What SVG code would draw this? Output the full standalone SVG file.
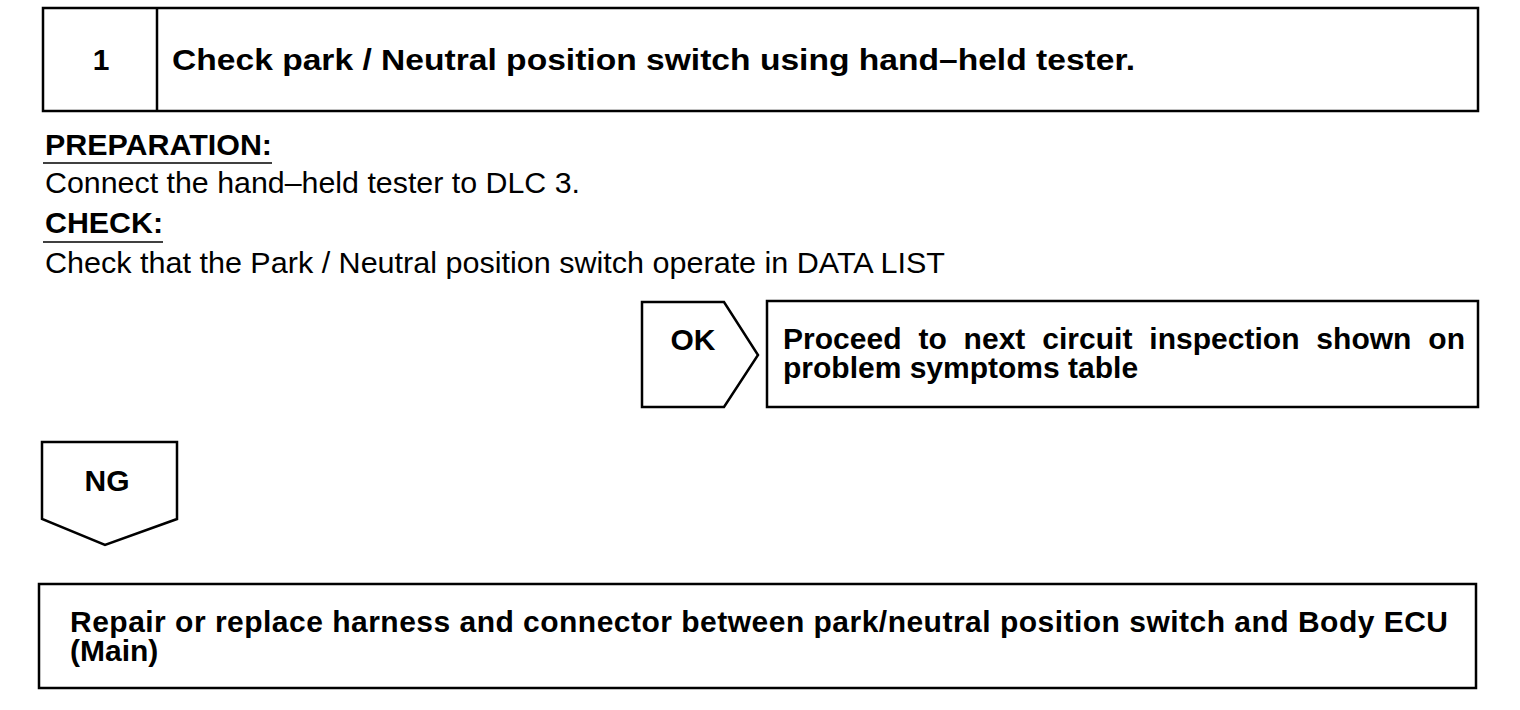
<svg xmlns="http://www.w3.org/2000/svg" width="1520" height="710" viewBox="0 0 1520 710">
<style>
.box{fill:#fff;stroke:#000;stroke-width:2.5}
.b{font-family:"Liberation Sans",Arial,sans-serif;font-weight:bold;font-size:30px;fill:#000}
.r{font-family:"Liberation Sans",Arial,sans-serif;font-size:30px;fill:#000}
.ul{stroke:#000;stroke-width:1.5}
</style>
<rect width="1520" height="710" fill="#fff"/>
<g id="step1">
<rect class="box" x="43" y="8" width="1435" height="103"/>
<line x1="157" y1="8" x2="157" y2="111" stroke="#000" stroke-width="2.5"/>
<text class="b" x="101" y="70" text-anchor="middle">1</text>
<text class="b" x="172" y="70" textLength="963" lengthAdjust="spacingAndGlyphs">Check park / Neutral position switch using hand–held tester.</text>
</g>
<g id="instructions">
<text class="b" x="45" y="155" textLength="227" lengthAdjust="spacingAndGlyphs">PREPARATION:</text>
<line class="ul" x1="43" y1="163" x2="272" y2="163"/>
<text class="r" x="45" y="193" textLength="535" lengthAdjust="spacingAndGlyphs">Connect the hand–held tester to DLC 3.</text>
<text class="b" x="45" y="233" textLength="118" lengthAdjust="spacingAndGlyphs">CHECK:</text>
<line class="ul" x1="43" y1="242" x2="163" y2="242"/>
<text class="r" x="45" y="273" textLength="900" lengthAdjust="spacingAndGlyphs">Check that the Park / Neutral position switch operate in DATA LIST</text>
</g>
<g id="connectors">
<g id="ok-arrow">
<polygon class="box" points="642,302 724,302 758,355 724,407 642,407"/>
<text class="b" x="693" y="350" text-anchor="middle">OK</text>
</g>
<g id="ng-arrow">
<polygon class="box" points="42,442 177,442 177,519 105,545 42,519"/>
<text class="b" x="107" y="491" text-anchor="middle">NG</text>
</g>
</g>
<g id="ok-result">
<rect class="box" x="767" y="301" width="711" height="106"/>
<text class="b" x="783" y="349" textLength="682" word-spacing="8.5">Proceed to next circuit inspection shown on</text>
<text class="b" x="783" y="378">problem symptoms table</text>
</g>
<g id="ng-result">
<rect class="box" x="39" y="584" width="1437" height="104"/>
<text class="b" x="70" y="632" textLength="1378">Repair or replace harness and connector between park/neutral position switch and Body ECU</text>
<text class="b" x="70" y="661">(Main)</text>
</g>
</svg>
